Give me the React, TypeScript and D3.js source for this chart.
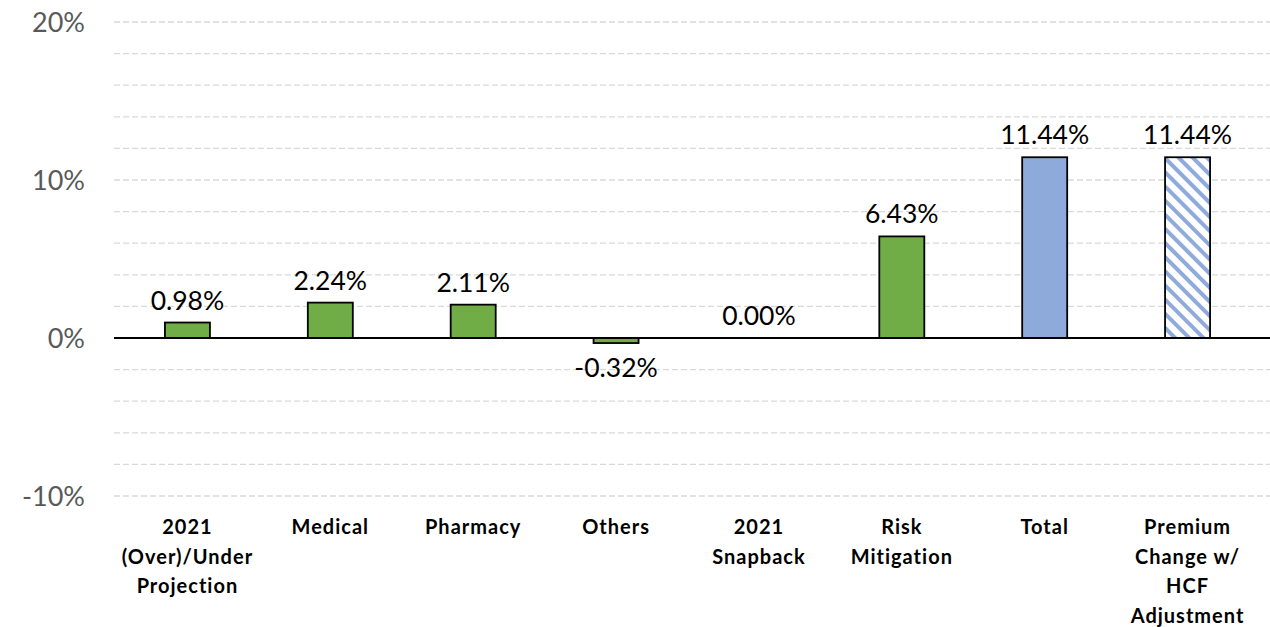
import React from "react";
import * as d3 from "d3";

const categories: string[][] = [
  ["2021", "(Over)/Under", "Projection"],
  ["Medical"],
  ["Pharmacy"],
  ["Others"],
  ["2021", "Snapback"],
  ["Risk", "Mitigation"],
  ["Total"],
  ["Premium", "Change w/", "HCF", "Adjustment"],
];
const values: number[] = [0.98, 2.24, 2.11, -0.32, 0.0, 6.43, 11.44, 11.44];
const barKinds: string[] = ["green", "green", "green", "green", "green", "green", "blue", "hatch"];
const yTicks: number[] = [-10, 0, 10, 20];
const gridValues: number[] = d3.range(-10, 21, 2);

const W = 1270;
const H = 627;
const FONT = "Lato, 'Open Sans', sans-serif";

export default function App() {
  const x = d3
    .scaleBand<number>()
    .domain(d3.range(values.length))
    .range([116, 1259])
    .paddingInner(0.685)
    .paddingOuter(0.3425);
  const y = d3.scaleLinear().domain([-10, 20]).range([496, 22]);
  const y0 = y(0);

  const fillFor = (k: string) =>
    k === "green" ? "#70ad47" : k === "blue" ? "#8eaadb" : "url(#hatch)";

  return (
    <div style={{ position: "absolute", left: 0, top: 0 }}>
      <svg width={W} height={H} style={{ display: "block", background: "#fff" }}>
        <defs>
          <pattern
            id="hatch"
            patternUnits="userSpaceOnUse"
            width={10}
            height={10}
            patternTransform="rotate(-45)"
          >
            <rect x={0} y={0} width={10} height={10} fill="#ffffff" />
            <rect x={0} y={0} width={4} height={10} fill="#8faadc" />
          </pattern>
        </defs>
        {gridValues
          .filter((v) => v !== 0)
          .map((v) => (
            <line
              key={"g" + v}
              x1={114}
              x2={1270}
              y1={y(v)}
              y2={y(v)}
              stroke="#d9d9d9"
              strokeWidth={1.3}
              strokeDasharray="6,3"
            />
          ))}
        {yTicks.map((v) => (
          <text
            key={"t" + v}
            x={85}
            y={y(v)}
            dy="0.36em"
            textAnchor="end"
            fontFamily={FONT}
            fontSize={27}
            fill="#595959"
          >
            {v + "%"}
          </text>
        ))}
        {values.map((v, i) => {
          const bx = x(i) as number;
          const top = y(Math.max(v, 0));
          const bot = y(Math.min(v, 0));
          const h = bot - top;
          return (
            <g key={"b" + i}>
              {h > 0 && (
                <rect
                  x={bx}
                  y={top}
                  width={x.bandwidth()}
                  height={h}
                  fill={fillFor(barKinds[i])}
                  stroke="#000"
                  strokeWidth={1.8}
                />
              )}
              <text
                x={bx + x.bandwidth() / 2}
                y={v < 0 ? bot + 34 : top - 13}
                textAnchor="middle"
                fontFamily={FONT}
                fontSize={26.5}
                fill="#000"
              >
                {v.toFixed(2) + "%"}
              </text>
            </g>
          );
        })}
        <line x1={114} x2={1270} y1={y0} y2={y0} stroke="#000" strokeWidth={2} />
        {categories.map((lines, i) => (
          <text
            key={"c" + i}
            x={(x(i) as number) + x.bandwidth() / 2}
            y={534}
            textAnchor="middle"
            fontFamily={FONT}
            fontSize={20}
            fontWeight="bold"
            letterSpacing={1}
            fill="#000"
          >
            {lines.map((l, j) => (
              <tspan key={j} x={(x(i) as number) + x.bandwidth() / 2} dy={j === 0 ? 0 : 29.5}>
                {l}
              </tspan>
            ))}
          </text>
        ))}
      </svg>
    </div>
  );
}
